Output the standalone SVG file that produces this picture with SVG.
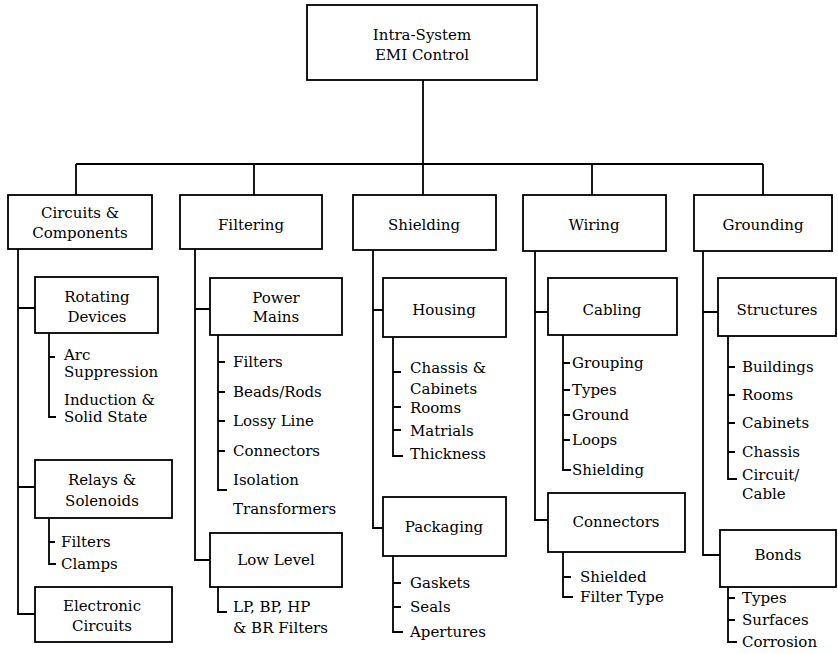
<svg xmlns="http://www.w3.org/2000/svg" width="838" height="654" viewBox="0 0 838 654">
<style>
.box{fill:#fff;stroke:#000;stroke-width:1.8}
.ln{fill:none;stroke:#000;stroke-width:1.8}
text{font-family:"DejaVu Serif","Liberation Serif",serif;font-size:15px;fill:#000}
.c{text-anchor:middle}
</style>
<rect width="838" height="654" fill="#fff"/>
<g id="connectors" class="ln">
<path d="M423 80V164M76 164H763M76 164V195M254 164V195M423 164V195M592 164V195M763 164V195"/>
<path d="M18 249V614H35M18 308H35M18 487H35"/>
<path d="M49 333V417H56M49 357H55"/>
<path d="M49 518V564H56M49 542H55"/>
<path d="M195 249V560H210M195 309H210"/>
<path d="M218 335V490H227M218 362H225M218 392H225M218 421H225M218 451H225"/>
<path d="M218 587V612H227"/>
<path d="M373 250V528H383M373 310H383"/>
<path d="M393 337V456H403M393 372H401M393 407H401M393 430H401"/>
<path d="M393 556V632H403M393 583H401M393 607H401"/>
<path d="M535 251V520H548M535 312H548"/>
<path d="M563 335V470H571M563 363H570M563 390H570M563 415H570M563 440H570"/>
<path d="M563 552V597H573M563 577H571"/>
<path d="M703 251V555H720M703 312H718"/>
<path d="M728 336V479H737M728 367H735M728 395H735M728 423H735M728 452H735"/>
<path d="M728 587V642H737M728 598H735M728 620H735"/>
</g>
<g id="root"><rect class="box" x="307" y="5" width="230" height="75"/><text class="c" x="422" y="40">Intra-System</text><text class="c" x="422" y="60">EMI Control</text></g>
<g id="circuits"><rect class="box" x="8" y="195" width="144" height="54"/><text class="c" x="80" y="218">Circuits &amp;</text><text class="c" x="80" y="238">Components</text></g>
<g id="filtering"><rect class="box" x="180" y="195" width="142" height="54"/><text class="c" x="251" y="230">Filtering</text></g>
<g id="shielding"><rect class="box" x="353" y="195" width="143" height="55"/><text class="c" x="424" y="230">Shielding</text></g>
<g id="wiring"><rect class="box" x="523" y="195" width="143" height="56"/><text class="c" x="594" y="230">Wiring</text></g>
<g id="grounding"><rect class="box" x="694" y="195" width="138" height="56"/><text class="c" x="763" y="230">Grounding</text></g>
<g id="rotating"><rect class="box" x="35" y="277" width="123" height="56"/><text class="c" x="97" y="302">Rotating</text><text class="c" x="97" y="322">Devices</text></g>
<g id="rot-items"><text x="64" y="360">Arc</text><text x="64" y="377">Suppression</text><text x="64" y="405">Induction &amp;</text><text x="64" y="422">Solid State</text></g>
<g id="relays"><rect class="box" x="35" y="460" width="137" height="58"/><text class="c" x="102" y="485">Relays &amp;</text><text class="c" x="102" y="506">Solenoids</text></g>
<g id="relay-items"><text x="61" y="547">Filters</text><text x="61" y="569">Clamps</text></g>
<g id="electronic"><rect class="box" x="35" y="587" width="137" height="55"/><text class="c" x="102" y="611">Electronic</text><text class="c" x="102" y="631">Circuits</text></g>
<g id="power"><rect class="box" x="210" y="278" width="132" height="57"/><text class="c" x="276" y="303">Power</text><text class="c" x="276" y="322">Mains</text></g>
<g id="power-items"><text x="233" y="367">Filters</text><text x="233" y="397">Beads/Rods</text><text x="233" y="426">Lossy Line</text><text x="233" y="456">Connectors</text><text x="233" y="485">Isolation</text><text x="233" y="514">Transformers</text></g>
<g id="lowlevel"><rect class="box" x="210" y="533" width="132" height="54"/><text class="c" x="276" y="565">Low Level</text></g>
<g id="low-items"><text x="233" y="612">LP, BP, HP</text><text x="233" y="633">&amp; BR Filters</text></g>
<g id="housing"><rect class="box" x="383" y="278" width="123" height="59"/><text class="c" x="444" y="315">Housing</text></g>
<g id="housing-items"><text x="410" y="373">Chassis &amp;</text><text x="410" y="394">Cabinets</text><text x="410" y="413">Rooms</text><text x="410" y="436">Matrials</text><text x="410" y="459">Thickness</text></g>
<g id="packaging"><rect class="box" x="383" y="497" width="123" height="59"/><text class="c" x="444" y="532">Packaging</text></g>
<g id="packaging-items"><text x="410" y="588">Gaskets</text><text x="410" y="612">Seals</text><text x="410" y="637">Apertures</text></g>
<g id="cabling"><rect class="box" x="548" y="278" width="129" height="57"/><text class="c" x="612" y="315">Cabling</text></g>
<g id="cabling-items"><text x="572" y="368">Grouping</text><text x="572" y="395">Types</text><text x="572" y="420">Ground</text><text x="572" y="445">Loops</text><text x="572" y="475">Shielding</text></g>
<g id="wconnectors"><rect class="box" x="548" y="493" width="137" height="59"/><text class="c" x="616" y="527">Connectors</text></g>
<g id="wconn-items"><text x="580" y="582">Shielded</text><text x="580" y="602">Filter Type</text></g>
<g id="structures"><rect class="box" x="718" y="278" width="118" height="58"/><text class="c" x="777" y="315">Structures</text></g>
<g id="structures-items"><text x="742" y="372">Buildings</text><text x="742" y="400">Rooms</text><text x="742" y="428">Cabinets</text><text x="742" y="457">Chassis</text><text x="742" y="480">Circuit/</text><text x="742" y="499">Cable</text></g>
<g id="bonds"><rect class="box" x="720" y="530" width="116" height="57"/><text class="c" x="778" y="560">Bonds</text></g>
<g id="bonds-items"><text x="742" y="603">Types</text><text x="742" y="625">Surfaces</text><text x="742" y="647">Corrosion</text></g>
</svg>
